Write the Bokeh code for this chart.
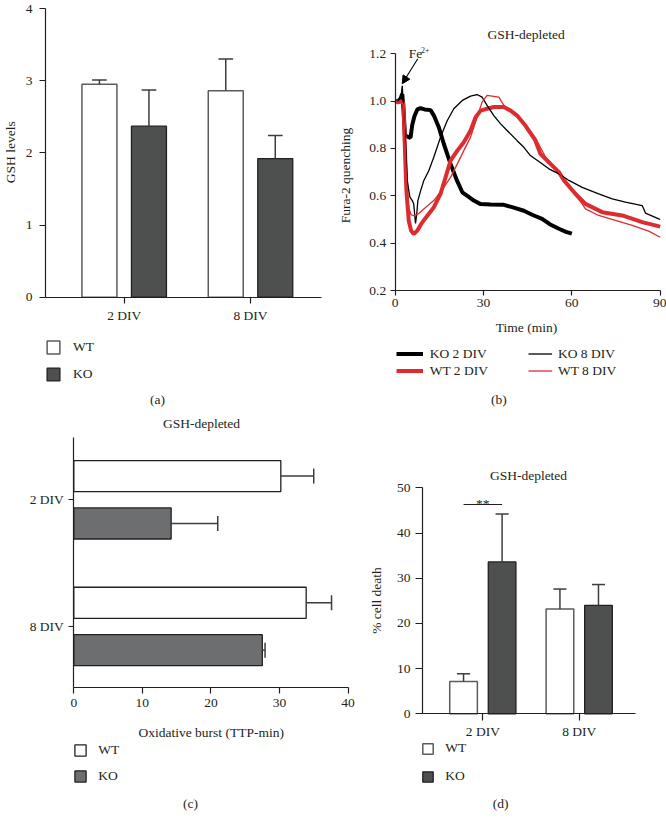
import math
from bokeh.plotting import figure
from bokeh.models import (Range1d, FixedTicker, Label, Legend, LegendItem, LinearAxis,
                          Arrow, NormalHead, NumeralTickFormatter)
from bokeh.embed import file_html
from bokeh.resources import INLINE

# ---------------- data ----------------
categories = ["2 DIV", "8 DIV"]

# (a) GSH levels
gsh_wt = [2.95, 2.86]
gsh_wt_err = [0.06, 0.44]
gsh_ko = [2.37, 1.92]
gsh_ko_err = [0.50, 0.32]
gsh_ticks = [0, 1, 2, 3, 4]

# (b) Fura-2 quenching, GSH-depleted
t_ko2 = [0, 1, 1.8, 2.4, 2.9, 3.3, 4.2, 5.2, 5.8, 6.5, 7.5, 8.6, 10, 12, 13.1, 14.8, 16.5,
         18.8, 21, 22.8, 24.5, 26.7, 29, 32.4, 36.9, 40.3, 43.7, 46.5, 49.9, 52.5, 55.6, 58, 60]
y_ko2 = [1.0, 1.0, 1.01, 1.03, 0.95, 0.855, 0.85, 0.845, 0.9, 0.935, 0.965, 0.97, 0.965, 0.962,
         0.94, 0.89, 0.82, 0.735, 0.664, 0.615, 0.60, 0.58, 0.565, 0.563, 0.562, 0.55, 0.537,
         0.52, 0.503, 0.48, 0.461, 0.448, 0.44]
t_wt2 = [0, 1, 2, 2.8, 3.2, 3.8, 4.6, 5.4, 6.3, 7.5, 9.2, 10.9, 13.1, 15.4, 17.1, 18.8, 21.1,
         23.3, 25.6, 27.3, 29, 31.2, 33.5, 36.9, 39.2, 41.4, 44.2, 47.6, 49.3, 51, 55.6, 57.3,
         61.2, 64.6, 70.3, 77.1, 83.9, 90]
y_wt2 = [1.0, 0.995, 1.0, 0.99, 0.833, 0.622, 0.495, 0.453, 0.438, 0.453, 0.488, 0.516, 0.551,
         0.608, 0.678, 0.749, 0.791, 0.826, 0.876, 0.932, 0.96, 0.968, 0.975, 0.975, 0.96, 0.939,
         0.897, 0.834, 0.777, 0.756, 0.70, 0.665, 0.609, 0.566, 0.531, 0.517, 0.489, 0.47]
t_ko8 = [0, 1, 2.0, 2.4, 2.8, 3.5, 4.1, 5.0, 5.8, 6.3, 6.9, 7.3, 7.7, 8.6, 9.7, 11.4, 13.1,
         15.4, 17.7, 19.9, 22.8, 25.6, 27.8, 29.5, 31.2, 33.5, 35.8, 38, 41.4, 43.7, 45.9, 48.8,
         52.2, 55.6, 59, 63.5, 69.1, 73.7, 78.2, 83.9, 85, 89.5, 90]
y_ko8 = [1.0, 1.0, 1.02, 1.065, 0.97, 0.83, 0.664, 0.594, 0.58, 0.565, 0.483, 0.52, 0.58, 0.62,
         0.664, 0.706, 0.763, 0.848, 0.918, 0.968, 1.003, 1.021, 1.028, 1.017, 0.982, 0.939,
         0.904, 0.876, 0.833, 0.805, 0.77, 0.745, 0.714, 0.693, 0.665, 0.636, 0.608, 0.587,
         0.573, 0.559, 0.527, 0.503, 0.50]
t_wt8 = [0, 1, 2, 2.8, 3.3, 3.9, 4.6, 5.4, 6.3, 8, 9.7, 13.1, 16.5, 18.8, 21.1, 23.3, 25.6,
         27.8, 29.5, 31.2, 33.5, 35.2, 36.9, 39.2, 41.4, 43.7, 47.6, 51, 55.6, 60, 63.5, 64.6,
         69.1, 74.8, 80.5, 86.1, 90]
y_wt8 = [1.0, 0.995, 1.0, 0.985, 0.84, 0.65, 0.55, 0.52, 0.516, 0.525, 0.544, 0.58, 0.636,
         0.678, 0.735, 0.791, 0.848, 0.932, 0.996, 1.024, 1.02, 1.017, 0.982, 0.96, 0.939,
         0.911, 0.845, 0.765, 0.70, 0.62, 0.566, 0.545, 0.517, 0.496, 0.475, 0.451, 0.425]
fura_xticks = [0, 30, 60, 90]
fura_yticks = [0.2, 0.4, 0.6, 0.8, 1.0, 1.2]

# (c) Oxidative burst (TTP-min)
burst_wt = [30.2, 33.9]
burst_wt_err = [4.8, 3.7]
burst_ko = [14.2, 27.5]
burst_ko_err = [6.8, 0.4]
burst_ticks = [0, 10, 20, 30, 40]

# (d) % cell death
death_wt = [7.15, 23.2]
death_wt_err = [1.7, 4.4]
death_ko = [33.6, 24.0]
death_ko_err = [10.6, 4.6]
death_ticks = [0, 10, 20, 30, 40, 50]
sig_label = "**"
sig_level = 46.3

# ---------------- style / layout ----------------
W, H = 666, 822
FONT = "Liberation Serif"
FS = "13.5px"
TXT = "#231f20"
AX = "#231f20"
RED = "#dd2c30"
KO_DARK = "#4e5050"
KO_MID = "#6d6e70"
WT_LINE = "#5b5c5e"
ERR = "#3c3d3f"

# panel frames in canvas pixels: (left, top, width, height) and data extents
PANELS = {
    "a": dict(box=(45, 8, 276, 288.7), x=(0.377, 2.562), y=(0, 4)),
    "b": dict(box=(394.7, 53.3, 265, 236.7), x=(0, 90), y=(0.2, 1.2)),
    "c": dict(box=(73.3, 437.3, 274.2, 250), x=(0, 40), y=(2.484, 0.511)),
    "d": dict(box=(422, 487.3, 212.7, 226), x=(0.374, 2.581), y=(0, 50)),
}

p = figure(width=W, height=H, x_range=Range1d(0, W), y_range=Range1d(H, 0),
           x_axis_type=None, y_axis_type=None, output_backend="svg",
           toolbar_location=None, min_border=0)
p.min_border_left = p.min_border_right = p.min_border_top = p.min_border_bottom = 0
p.outline_line_color = None
p.title.visible = False

for k, d in PANELS.items():
    l, t, w, h = d["box"]
    x0, x1 = d["x"]
    y0, y1 = d["y"]          # y0 at frame bottom, y1 at frame top
    sx = (x1 - x0) / w
    sy = (y1 - y0) / h
    p.extra_x_ranges[k + "x"] = Range1d(x0 - l * sx, x1 + (W - l - w) * sx)
    p.extra_y_ranges[k + "y"] = Range1d(y0 - (H - t - h) * sy, y1 + t * sy)


def style_axis(ax, tick_out, standoff):
    ax.axis_line_color = AX
    ax.axis_line_width = 1.2
    ax.major_tick_line_color = AX
    ax.major_tick_line_width = 1.2
    ax.major_tick_in = 0
    ax.major_tick_out = tick_out
    ax.minor_tick_line_color = None
    ax.major_label_text_font = FONT
    ax.major_label_text_font_size = FS
    ax.major_label_text_color = TXT
    ax.major_label_text_line_height = 1.0
    ax.major_label_standoff = standoff


def add_axes(k, xticks, yticks, xt=(6, 5), yt=(6, 6), xover=None, yover=None, yfmt=None):
    d = PANELS[k]
    xa = LinearAxis(x_range_name=k + "x", y_range_name=k + "y", fixed_location=d["y"][0],
                    bounds=d["x"], ticker=FixedTicker(ticks=xticks))
    style_axis(xa, *xt)
    if xover:
        xa.major_label_overrides = xover
    p.add_layout(xa, "below")
    ya = LinearAxis(x_range_name=k + "x", y_range_name=k + "y", fixed_location=d["x"][0],
                    bounds=d["y"], ticker=FixedTicker(ticks=yticks))
    style_axis(ya, *yt)
    if yover:
        ya.major_label_overrides = yover
    if yfmt:
        ya.formatter = yfmt
    p.add_layout(ya, "left")


def text(x, y, s, size=FS, align="center", baseline="middle", angle=0.0):
    p.add_layout(Label(x=x, y=y, text=s, text_font=FONT, text_font_size=size,
                       text_color=TXT, text_align=align, text_baseline=baseline,
                       angle=angle))


def legend(items, left, bottom, glyph_w, glyph_h, spacing, standoff):
    p.add_layout(Legend(items=items, location=(left, H - bottom), orientation="vertical",
                        padding=0, margin=0, spacing=spacing,
                        glyph_width=glyph_w, glyph_height=glyph_h,
                        label_height=glyph_h, label_width=10, label_standoff=standoff,
                        label_text_font=FONT, label_text_font_size=FS,
                        label_text_color=TXT, border_line_color=None,
                        background_fill_alpha=0))


cat_pos = [i + 1 for i in range(len(categories))]
cat_labels = {c: s for c, s in zip(cat_pos, categories)}


def vbars(k, wt, wt_e, ko, ko_e, off, bw, cap, ko_fill):
    kw = dict(x_range_name=k + "x", y_range_name=k + "y")
    xw = [c - off for c in cat_pos]
    xk = [c + off for c in cat_pos]
    rw = p.vbar(x=xw, top=wt, bottom=0, width=bw, fill_color="white",
                line_color=WT_LINE, line_width=1.5, **kw)
    rk = p.vbar(x=xk, top=ko, bottom=0, width=bw, fill_color=ko_fill,
                line_color=AX, line_width=1.3, **kw)
    for xs, m, e in ((xw, wt, wt_e), (xk, ko, ko_e)):
        tops = [a + b for a, b in zip(m, e)]
        p.segment(x0=xs, y0=m, x1=xs, y1=tops, line_color=ERR, line_width=1.5, **kw)
        p.segment(x0=[x - cap for x in xs], y0=tops, x1=[x + cap for x in xs], y1=tops,
                  line_color=ERR, line_width=1.5, **kw)
    return rw, rk, xw, xk


# ---------------- (a) ----------------
ra_wt, ra_ko, _, _ = vbars("a", gsh_wt, gsh_wt_err, gsh_ko, gsh_ko_err, 0.196, 0.277, 0.058,
                           KO_DARK)
add_axes("a", cat_pos, gsh_ticks, xt=(6, 5), yt=(6, 7), xover=cat_labels)
text(10, 151.7, "GSH levels", angle=math.pi / 2)
legend([LegendItem(label="WT", renderers=[ra_wt]), LegendItem(label="KO", renderers=[ra_ko])],
       45, 382, 16, 16, 11, 12)
text(157, 399, "(a)")

# ---------------- (b) ----------------
kb = dict(x_range_name="bx", y_range_name="by")
r_ko2 = p.line(t_ko2, y_ko2, line_color="black", line_width=4, **kb)
r_wt2 = p.line(t_wt2, y_wt2, line_color=RED, line_width=4, **kb)
r_ko8 = p.line(t_ko8, y_ko8, line_color="black", line_width=1.3, **kb)
r_wt8 = p.line(t_wt8, y_wt8, line_color=RED, line_width=1.3, **kb)
add_axes("b", fura_xticks, fura_yticks, xt=(5, 3), yt=(5, 4),
         yfmt=NumeralTickFormatter(format="0.0"))
text(344.7, 175, "Fura-2 quenching", angle=math.pi / 2)
text(526, 326.7, "Time (min)")
text(525.7, 34.3, "GSH-depleted")
legend([LegendItem(label="KO 2 DIV", renderers=[r_ko2]),
        LegendItem(label="WT 2 DIV", renderers=[r_wt2])], 395.7, 378.5, 27, 15, 1, 7)
legend([LegendItem(label="KO 8 DIV", renderers=[r_ko8]),
        LegendItem(label="WT 8 DIV", renderers=[r_wt8])], 528, 378.5, 24, 15, 1, 6)
text(408.3, 53.3, "Fe", align="left", baseline="alphabetic")
text(420.5, 49.8, "2+", size="8px", align="left", baseline="alphabetic")
p.add_layout(Arrow(end=NormalHead(size=8, fill_color="black", line_color="black"),
                   x_start=417.3, y_start=58.3, x_end=401.7, y_end=83.3,
                   line_color="black", line_width=1.1))
text(498.3, 399, "(b)")

# ---------------- (c) ----------------
kc = dict(x_range_name="cx", y_range_name="cy")
off_c, bh_c, cap_c = 0.187, 0.245, 0.059
yc_wt = [c - off_c for c in cat_pos]
yc_ko = [c + off_c for c in cat_pos]
rc_wt = p.hbar(y=yc_wt, right=burst_wt, left=0, height=bh_c, fill_color="white",
               line_color=AX, line_width=1.3, **kc)
rc_ko = p.hbar(y=yc_ko, right=burst_ko, left=0, height=bh_c, fill_color=KO_MID,
               line_color=AX, line_width=1.3, **kc)
for ys, m, e in ((yc_wt, burst_wt, burst_wt_err), (yc_ko, burst_ko, burst_ko_err)):
    ends = [a + b for a, b in zip(m, e)]
    p.segment(x0=m, y0=ys, x1=ends, y1=ys, line_color=ERR, line_width=1.5, **kc)
    p.segment(x0=ends, y0=[y - cap_c for y in ys], x1=ends, y1=[y + cap_c for y in ys],
              line_color=ERR, line_width=1.5, **kc)
add_axes("c", burst_ticks, cat_pos, xt=(6, 5), yt=(5, 5), yover=cat_labels)
text(210.7, 731.7, "Oxidative burst (TTP-min)")
text(201, 422.7, "GSH-depleted")
legend([LegendItem(label="WT", renderers=[rc_wt]), LegendItem(label="KO", renderers=[rc_ko])],
       73.3, 784.3, 14, 14, 10, 11)
text(190, 803, "(c)")

# ---------------- (d) ----------------
rd_wt, rd_ko, xd_wt, xd_ko = vbars("d", death_wt, death_wt_err, death_ko, death_ko_err,
                                   0.2, 0.287, 0.068, KO_DARK)
p.segment(x0=[xd_wt[0]], y0=[sig_level], x1=[xd_ko[0]], y1=[sig_level],
          line_color=AX, line_width=1.2, x_range_name="dx", y_range_name="dy")
p.add_layout(Label(x=cat_pos[0], y=sig_level + 0.2, text=sig_label, text_font=FONT,
                   text_font_size=FS, text_color=TXT, text_align="center",
                   text_baseline="alphabetic", x_range_name="dx", y_range_name="dy"))
add_axes("d", cat_pos, death_ticks, xt=(7, 3), yt=(7, 5), xover=cat_labels)
text(376.3, 600, "% cell death", angle=math.pi / 2)
text(528, 475, "GSH-depleted")
legend([LegendItem(label="WT", renderers=[rd_wt]), LegendItem(label="KO", renderers=[rd_ko])],
       421.3, 784, 13, 13, 12, 11)
text(500, 803, "(d)")

open("out.html", "w").write(file_html(p, INLINE))
